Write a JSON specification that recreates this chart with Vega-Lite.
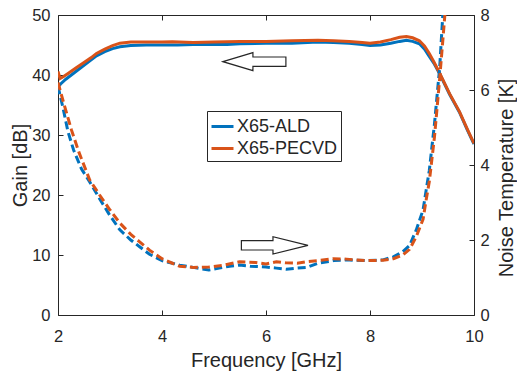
{
  "$schema": "https://vega.github.io/schema/vega-lite/v6.json",
  "width": 416,
  "height": 300,
  "autosize": {"type": "none"},
  "padding": {"left": 58, "top": 15, "right": 43, "bottom": 58},
  "background": "white",
  "config": {
    "font": "Liberation Sans",
    "view": {"stroke": "#262626", "strokeWidth": 1},
    "axis": {
      "grid": false, "domain": false, "tickSize": -5, "tickColor": "#262626", "tickWidth": 1,
      "labelColor": "#262626", "titleColor": "#262626", "labelFont": "Liberation Sans", "titleFont": "Liberation Sans",
      "labelFontSize": 16.5, "titleFontSize": 20, "titleFontWeight": "normal", "labelFlush": false
    }
  },
  "datasets": {
    "gain": [
      {"freq": 2.0, "gain": 38.0, "series": "X65-ALD"},
      {"freq": 2.05, "gain": 38.5, "series": "X65-ALD"},
      {"freq": 2.15, "gain": 39.3, "series": "X65-ALD"},
      {"freq": 2.3, "gain": 40.3, "series": "X65-ALD"},
      {"freq": 2.45, "gain": 41.3, "series": "X65-ALD"},
      {"freq": 2.6, "gain": 42.3, "series": "X65-ALD"},
      {"freq": 2.74, "gain": 43.2, "series": "X65-ALD"},
      {"freq": 2.9, "gain": 43.9, "series": "X65-ALD"},
      {"freq": 3.05, "gain": 44.4, "series": "X65-ALD"},
      {"freq": 3.19, "gain": 44.7, "series": "X65-ALD"},
      {"freq": 3.4, "gain": 44.9, "series": "X65-ALD"},
      {"freq": 3.7, "gain": 45.0, "series": "X65-ALD"},
      {"freq": 4.0, "gain": 45.0, "series": "X65-ALD"},
      {"freq": 4.3, "gain": 45.0, "series": "X65-ALD"},
      {"freq": 4.6, "gain": 45.1, "series": "X65-ALD"},
      {"freq": 5.0, "gain": 45.1, "series": "X65-ALD"},
      {"freq": 5.25, "gain": 45.1, "series": "X65-ALD"},
      {"freq": 5.5, "gain": 45.2, "series": "X65-ALD"},
      {"freq": 6.0, "gain": 45.3, "series": "X65-ALD"},
      {"freq": 6.5, "gain": 45.3, "series": "X65-ALD"},
      {"freq": 7.0, "gain": 45.5, "series": "X65-ALD"},
      {"freq": 7.3, "gain": 45.4, "series": "X65-ALD"},
      {"freq": 7.6, "gain": 45.3, "series": "X65-ALD"},
      {"freq": 7.85, "gain": 45.1, "series": "X65-ALD"},
      {"freq": 8.0, "gain": 44.9, "series": "X65-ALD"},
      {"freq": 8.2, "gain": 45.0, "series": "X65-ALD"},
      {"freq": 8.4, "gain": 45.3, "series": "X65-ALD"},
      {"freq": 8.57, "gain": 45.6, "series": "X65-ALD"},
      {"freq": 8.7, "gain": 45.8, "series": "X65-ALD"},
      {"freq": 8.82, "gain": 45.6, "series": "X65-ALD"},
      {"freq": 8.95, "gain": 45.2, "series": "X65-ALD"},
      {"freq": 9.05, "gain": 44.3, "series": "X65-ALD"},
      {"freq": 9.14, "gain": 43.1, "series": "X65-ALD"},
      {"freq": 9.24, "gain": 41.8, "series": "X65-ALD"},
      {"freq": 9.34, "gain": 40.2, "series": "X65-ALD"},
      {"freq": 9.53, "gain": 36.8, "series": "X65-ALD"},
      {"freq": 9.72, "gain": 33.8, "series": "X65-ALD"},
      {"freq": 9.88, "gain": 30.7, "series": "X65-ALD"},
      {"freq": 10.0, "gain": 28.5, "series": "X65-ALD"},
      {"freq": 2.0, "gain": 40.6, "series": "X65-PECVD"},
      {"freq": 2.04, "gain": 39.4, "series": "X65-PECVD"},
      {"freq": 2.1, "gain": 39.7, "series": "X65-PECVD"},
      {"freq": 2.2, "gain": 40.3, "series": "X65-PECVD"},
      {"freq": 2.35, "gain": 41.2, "series": "X65-PECVD"},
      {"freq": 2.5, "gain": 42.1, "series": "X65-PECVD"},
      {"freq": 2.64, "gain": 42.9, "series": "X65-PECVD"},
      {"freq": 2.74, "gain": 43.6, "series": "X65-PECVD"},
      {"freq": 2.9, "gain": 44.3, "series": "X65-PECVD"},
      {"freq": 3.05, "gain": 44.9, "series": "X65-PECVD"},
      {"freq": 3.19, "gain": 45.3, "series": "X65-PECVD"},
      {"freq": 3.4, "gain": 45.5, "series": "X65-PECVD"},
      {"freq": 3.7, "gain": 45.5, "series": "X65-PECVD"},
      {"freq": 4.0, "gain": 45.5, "series": "X65-PECVD"},
      {"freq": 4.2, "gain": 45.55, "series": "X65-PECVD"},
      {"freq": 4.6, "gain": 45.4, "series": "X65-PECVD"},
      {"freq": 5.0, "gain": 45.5, "series": "X65-PECVD"},
      {"freq": 5.25, "gain": 45.55, "series": "X65-PECVD"},
      {"freq": 5.5, "gain": 45.6, "series": "X65-PECVD"},
      {"freq": 6.0, "gain": 45.6, "series": "X65-PECVD"},
      {"freq": 6.5, "gain": 45.7, "series": "X65-PECVD"},
      {"freq": 7.0, "gain": 45.8, "series": "X65-PECVD"},
      {"freq": 7.3, "gain": 45.7, "series": "X65-PECVD"},
      {"freq": 7.6, "gain": 45.6, "series": "X65-PECVD"},
      {"freq": 7.85, "gain": 45.4, "series": "X65-PECVD"},
      {"freq": 8.0, "gain": 45.3, "series": "X65-PECVD"},
      {"freq": 8.2, "gain": 45.5, "series": "X65-PECVD"},
      {"freq": 8.4, "gain": 45.9, "series": "X65-PECVD"},
      {"freq": 8.57, "gain": 46.3, "series": "X65-PECVD"},
      {"freq": 8.7, "gain": 46.4, "series": "X65-PECVD"},
      {"freq": 8.82, "gain": 46.2, "series": "X65-PECVD"},
      {"freq": 8.95, "gain": 45.7, "series": "X65-PECVD"},
      {"freq": 9.05, "gain": 44.8, "series": "X65-PECVD"},
      {"freq": 9.14, "gain": 43.6, "series": "X65-PECVD"},
      {"freq": 9.24, "gain": 42.0, "series": "X65-PECVD"},
      {"freq": 9.34, "gain": 40.3, "series": "X65-PECVD"},
      {"freq": 9.53, "gain": 36.9, "series": "X65-PECVD"},
      {"freq": 9.72, "gain": 33.9, "series": "X65-PECVD"},
      {"freq": 9.88, "gain": 30.8, "series": "X65-PECVD"},
      {"freq": 10.0, "gain": 28.6, "series": "X65-PECVD"}
    ],
    "noise": [
      {"freq": 2.0, "temp": 6.1, "series": "X65-ALD"},
      {"freq": 2.1, "temp": 5.5, "series": "X65-ALD"},
      {"freq": 2.19, "temp": 4.9, "series": "X65-ALD"},
      {"freq": 2.3, "temp": 4.4, "series": "X65-ALD"},
      {"freq": 2.45, "temp": 3.9, "series": "X65-ALD"},
      {"freq": 2.61, "temp": 3.55, "series": "X65-ALD"},
      {"freq": 2.8, "temp": 3.1, "series": "X65-ALD"},
      {"freq": 3.0, "temp": 2.65, "series": "X65-ALD"},
      {"freq": 3.19, "temp": 2.27, "series": "X65-ALD"},
      {"freq": 3.4, "temp": 2.0, "series": "X65-ALD"},
      {"freq": 3.57, "temp": 1.82, "series": "X65-ALD"},
      {"freq": 3.76, "temp": 1.62, "series": "X65-ALD"},
      {"freq": 4.0, "temp": 1.45, "series": "X65-ALD"},
      {"freq": 4.34, "temp": 1.33, "series": "X65-ALD"},
      {"freq": 4.6, "temp": 1.27, "series": "X65-ALD"},
      {"freq": 4.9, "temp": 1.2, "series": "X65-ALD"},
      {"freq": 5.1, "temp": 1.25, "series": "X65-ALD"},
      {"freq": 5.3, "temp": 1.3, "series": "X65-ALD"},
      {"freq": 5.49, "temp": 1.33, "series": "X65-ALD"},
      {"freq": 5.7, "temp": 1.3, "series": "X65-ALD"},
      {"freq": 6.0, "temp": 1.28, "series": "X65-ALD"},
      {"freq": 6.2, "temp": 1.25, "series": "X65-ALD"},
      {"freq": 6.39, "temp": 1.22, "series": "X65-ALD"},
      {"freq": 6.6, "temp": 1.25, "series": "X65-ALD"},
      {"freq": 6.78, "temp": 1.27, "series": "X65-ALD"},
      {"freq": 7.0, "temp": 1.38, "series": "X65-ALD"},
      {"freq": 7.3, "temp": 1.45, "series": "X65-ALD"},
      {"freq": 7.55, "temp": 1.47, "series": "X65-ALD"},
      {"freq": 7.9, "temp": 1.45, "series": "X65-ALD"},
      {"freq": 8.25, "temp": 1.47, "series": "X65-ALD"},
      {"freq": 8.45, "temp": 1.55, "series": "X65-ALD"},
      {"freq": 8.63, "temp": 1.69, "series": "X65-ALD"},
      {"freq": 8.76, "temp": 1.85, "series": "X65-ALD"},
      {"freq": 8.89, "temp": 2.27, "series": "X65-ALD"},
      {"freq": 9.02, "temp": 2.8, "series": "X65-ALD"},
      {"freq": 9.08, "temp": 3.33, "series": "X65-ALD"},
      {"freq": 9.14, "temp": 3.85, "series": "X65-ALD"},
      {"freq": 9.24, "temp": 5.1, "series": "X65-ALD"},
      {"freq": 9.34, "temp": 6.6, "series": "X65-ALD"},
      {"freq": 9.4, "temp": 8.0, "series": "X65-ALD"},
      {"freq": 9.45, "temp": 9.0, "series": "X65-ALD"},
      {"freq": 2.0, "temp": 6.2, "series": "X65-PECVD"},
      {"freq": 2.1, "temp": 5.7, "series": "X65-PECVD"},
      {"freq": 2.26, "temp": 4.93, "series": "X65-PECVD"},
      {"freq": 2.4, "temp": 4.35, "series": "X65-PECVD"},
      {"freq": 2.61, "temp": 3.6, "series": "X65-PECVD"},
      {"freq": 2.8, "temp": 3.2, "series": "X65-PECVD"},
      {"freq": 3.0, "temp": 2.8, "series": "X65-PECVD"},
      {"freq": 3.19, "temp": 2.45, "series": "X65-PECVD"},
      {"freq": 3.4, "temp": 2.15, "series": "X65-PECVD"},
      {"freq": 3.57, "temp": 1.95, "series": "X65-PECVD"},
      {"freq": 3.76, "temp": 1.73, "series": "X65-PECVD"},
      {"freq": 4.0, "temp": 1.5, "series": "X65-PECVD"},
      {"freq": 4.2, "temp": 1.38, "series": "X65-PECVD"},
      {"freq": 4.34, "temp": 1.3, "series": "X65-PECVD"},
      {"freq": 4.6, "temp": 1.27, "series": "X65-PECVD"},
      {"freq": 4.9, "temp": 1.28, "series": "X65-PECVD"},
      {"freq": 5.2, "temp": 1.33, "series": "X65-PECVD"},
      {"freq": 5.49, "temp": 1.42, "series": "X65-PECVD"},
      {"freq": 5.8, "temp": 1.4, "series": "X65-PECVD"},
      {"freq": 6.0, "temp": 1.36, "series": "X65-PECVD"},
      {"freq": 6.2, "temp": 1.42, "series": "X65-PECVD"},
      {"freq": 6.39, "temp": 1.39, "series": "X65-PECVD"},
      {"freq": 6.6, "temp": 1.38, "series": "X65-PECVD"},
      {"freq": 6.78, "temp": 1.42, "series": "X65-PECVD"},
      {"freq": 7.0, "temp": 1.45, "series": "X65-PECVD"},
      {"freq": 7.3, "temp": 1.5, "series": "X65-PECVD"},
      {"freq": 7.55, "temp": 1.49, "series": "X65-PECVD"},
      {"freq": 7.9, "temp": 1.45, "series": "X65-PECVD"},
      {"freq": 8.25, "temp": 1.46, "series": "X65-PECVD"},
      {"freq": 8.45, "temp": 1.5, "series": "X65-PECVD"},
      {"freq": 8.63, "temp": 1.6, "series": "X65-PECVD"},
      {"freq": 8.76, "temp": 1.75, "series": "X65-PECVD"},
      {"freq": 8.89, "temp": 2.09, "series": "X65-PECVD"},
      {"freq": 9.02, "temp": 2.55, "series": "X65-PECVD"},
      {"freq": 9.08, "temp": 3.07, "series": "X65-PECVD"},
      {"freq": 9.14, "temp": 3.55, "series": "X65-PECVD"},
      {"freq": 9.24, "temp": 4.75, "series": "X65-PECVD"},
      {"freq": 9.34, "temp": 6.3, "series": "X65-PECVD"},
      {"freq": 9.44, "temp": 8.0, "series": "X65-PECVD"},
      {"freq": 9.5, "temp": 9.0, "series": "X65-PECVD"}
    ],
    "arrows": [
      {"freq": 5.777, "gain": 42.22, "dir": "left"},
      {"freq": 6.167, "gain": 11.61, "dir": "right"}
    ]
  },
  "layer": [
    {
      "data": {"name": "gain"},
      "mark": {"type": "line", "strokeWidth": 3, "clip": true},
      "encoding": {
        "x": {"field": "freq", "type": "quantitative", "scale": {"domain": [2, 10], "nice": false},
          "axis": {"orient": "bottom", "values": [2, 4, 6, 8, 10], "title": "Frequency [GHz]", "labelPadding": 18, "labelFlush": false, "titleY": 51.7, "titleBaseline": "alphabetic"}},
        "y": {"field": "gain", "type": "quantitative", "scale": {"domain": [0, 50], "nice": false},
          "axis": {"orient": "left", "values": [0, 10, 20, 30, 40, 50], "title": "Gain [dB]", "labelPadding": 13, "titleX": -31.3, "titleBaseline": "alphabetic"}},
        "color": {"field": "series", "type": "nominal",
          "scale": {"domain": ["X65-ALD", "X65-PECVD"], "range": ["#0072BD", "#D95319"]},
          "legend": {"title": null, "orient": "none", "legendX": 149, "legendY": 96, "fillColor": "white", "strokeColor": "#262626",
            "padding": 3, "labelFontSize": 18, "labelColor": "#262626", "labelFont": "Liberation Sans",
            "symbolType": "stroke", "symbolSize": 484, "symbolStrokeWidth": 3, "symbolDash": [1, 0], "labelOffset": 2, "rowPadding": -1}}
      }
    },
    {
      "data": {"name": "noise"},
      "mark": {"type": "line", "strokeWidth": 3, "strokeDash": [8, 4], "clip": true},
      "encoding": {
        "x": {"field": "freq", "type": "quantitative", "scale": {"domain": [2, 10], "nice": false},
          "axis": {"orient": "top", "values": [2, 4, 6, 8, 10], "labels": false, "title": null}},
        "y": {"field": "temp", "type": "quantitative", "scale": {"domain": [0, 8], "nice": false},
          "axis": {"orient": "right", "values": [0, 2, 4, 6, 8], "title": "Noise Temperature [K]", "labelPadding": 11, "titleAngle": 270, "titleX": 38, "titleY": 162.5, "titleBaseline": "alphabetic"}},
        "color": {"field": "series", "type": "nominal"}
      }
    },
    {
      "data": {"name": "arrows"},
      "mark": {"type": "point", "filled": true, "fill": "white", "stroke": "#262626", "strokeWidth": 1.2, "size": 4489, "opacity": 1},
      "encoding": {
        "x": {"field": "freq", "type": "quantitative", "scale": {"domain": [2, 10], "nice": false}, "axis": null},
        "y": {"field": "gain", "type": "quantitative", "scale": {"domain": [0, 50], "nice": false}, "axis": null},
        "shape": {"field": "dir", "type": "nominal",
          "scale": {"domain": ["left", "right"], "range": [
            "M -0.94 0 L -0.044 -0.269 L -0.044 -0.139 L 0.94 -0.139 L 0.94 0.139 L -0.044 0.139 L -0.044 0.269 Z",
            "M 0.994 0 L -0.051 -0.258 L -0.051 -0.139 L -0.994 -0.139 L -0.994 0.139 L -0.051 0.139 L -0.051 0.258 Z"]},
          "legend": null}
      }
    }
  ],
  "resolve": {"scale": {"y": "independent"}, "axis": {"x": "independent"}}
}
